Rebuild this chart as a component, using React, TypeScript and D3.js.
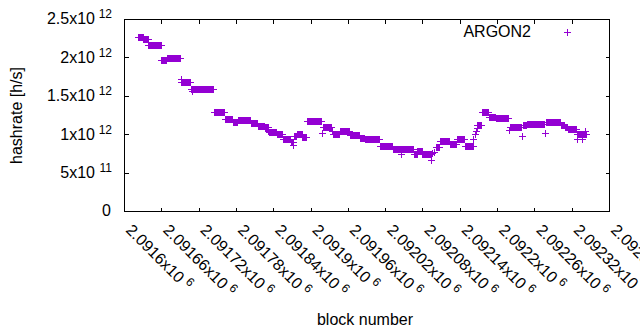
import React from 'react';
import * as d3 from 'd3';

// runs of blocks where the estimated hashrate stays the same
const runFrom = [
  2091622, 2091631, 2091639, 2091660, 2091669, 2091692, 2091707, 2091744, 2091762, 2091775,
  2091783, 2091804, 2091815, 2091826, 2091833, 2091846, 2091855, 2091868, 2091873, 2091878,
  2091887, 2091894, 2091920, 2091936, 2091947, 2091963, 2091979, 2091987, 2092011, 2092032,
  2092066, 2092072, 2092080, 2092101, 2092108, 2092124, 2092135, 2092148, 2092168, 2092175,
  2092187, 2092198, 2092220, 2092242, 2092248, 2092278, 2092302, 2092309, 2092314, 2092328,
];
const runTo = [
  2091630, 2091638, 2091659, 2091668, 2091690, 2091706, 2091743, 2091761, 2091774, 2091782,
  2091803, 2091814, 2091825, 2091832, 2091845, 2091854, 2091867, 2091872, 2091877, 2091886,
  2091893, 2091917, 2091933, 2091946, 2091962, 2091978, 2091986, 2092010, 2092031, 2092065,
  2092071, 2092079, 2092094, 2092107, 2092123, 2092134, 2092147, 2092161, 2092174, 2092186,
  2092197, 2092218, 2092239, 2092247, 2092276, 2092301, 2092308, 2092313, 2092327, 2092343,
];
const runRate = [
  2.266e12, 2.24e12, 2.158e12, 1.96e12, 1.988e12, 1.684e12, 1.585e12, 1.285e12, 1.194e12, 1.159e12,
  1.191e12, 1.152e12, 1.113e12, 1.094e12, 1.035e12, 1.003e12, 0.944e12, 0.902e12, 0.977e12, 1.009e12,
  0.97e12, 1.178e12, 1.1e12, 0.999e12, 1.042e12, 0.986e12, 0.957e12, 0.934e12, 0.84e12, 0.801e12,
  0.736e12, 0.775e12, 0.738e12, 0.829e12, 0.908e12, 0.866e12, 0.931e12, 0.846e12, 1.126e12, 1.285e12,
  1.224e12, 1.217e12, 1.09e12, 1.12e12, 1.135e12, 1.165e12, 1.126e12, 1.094e12, 1.064e12, 0.999e12,
];

// single blocks off the runs
const spikeBlock = [
  2091691, 2091709, 2091831, 2091871, 2091919, 2091934, 2092045, 2092093, 2092096, 2092098,
  2092162, 2092164, 2092166, 2092167, 2092219, 2092240, 2092277, 2092329, 2092337, 2092341,
];
const spikeRate = [
  1.719e12, 1.563e12, 1.042e12, 0.859e12, 1.012e12, 1.042e12, 0.742e12, 0.664e12, 0.76e12, 0.765e12,
  0.934e12, 1.003e12, 1.042e12, 1.08e12, 1.055e12, 0.983e12, 1.012e12, 0.934e12, 0.934e12, 1.042e12,
];

const xTicks = [
  2091600, 2091660, 2091720, 2091780, 2091840, 2091900, 2091960,
  2092020, 2092080, 2092140, 2092200, 2092260, 2092320, 2092380,
];
const xTickLabels = [
  '2.0916', '2.09166', '2.09172', '2.09178', '2.09184', '2.0919', '2.09196',
  '2.09202', '2.09208', '2.09214', '2.0922', '2.09226', '2.09232', '2.09238',
];
const yTicks = [0, 0.5e12, 1e12, 1.5e12, 2e12, 2.5e12];
const yTickMant = ['0', '5', '1', '1.5', '2', '2.5'];
const yTickExp = ['', '11', '12', '12', '12', '12'];

const color = '#9400d3';
const font = '"Liberation Sans", Arial, sans-serif';

const App = () => {
  const left = 124.5, right = 609.5, top = 19.5, bottom = 211.5;

  const x = d3.scaleLinear().domain([2091600, 2092380]).range([left, right]);
  const y = d3.scaleLinear().domain([0, 2.5e12]).range([bottom, top]);

  const points: [number, number][] = [];
  runFrom.forEach((from, i) => {
    for (let b = from; b <= runTo[i]; b++) points.push([b, runRate[i]]);
  });
  spikeBlock.forEach((b, i) => points.push([b, spikeRate[i]]));

  const plus = (cx: number, cy: number) => {
    const c = Math.floor(cx), r = Math.floor(cy);
    return `M${c - 3},${r + 0.5}H${c + 4}M${c + 0.5},${r - 3}V${r + 4}`;
  };
  const path = points.map(([b, v]) => plus(x(b), y(v))).join('');

  const tk = 4;

  return (
    <svg width={640} height={330} style={{ position: 'absolute', left: 0, top: 0, background: '#fff' }}
      fontFamily={font}>
      {/* data */}
      <path d={path} stroke={color} strokeWidth={1} fill="none" shapeRendering="crispEdges" />

      {/* frame and ticks */}
      <g stroke="#000" strokeWidth={1} shapeRendering="crispEdges">
        <rect x={left} y={top} width={right - left} height={bottom - top} fill="none" />
        {xTicks.map(t => {
          const px = Math.floor(x(t)) + 0.5;
          return (
            <g key={t}>
              <line x1={px} x2={px} y1={bottom} y2={bottom - tk} />
              <line x1={px} x2={px} y1={top} y2={top + tk} />
            </g>
          );
        })}
        {yTicks.map(t => {
          const py = Math.floor(y(t)) + 0.5;
          return (
            <g key={t}>
              <line x1={left} x2={left + tk} y1={py} y2={py} />
              <line x1={right} x2={right - tk} y1={py} y2={py} />
            </g>
          );
        })}
      </g>

      {/* y tick labels */}
      {yTicks.map((t, i) => {
        const py = y(t) + 4.8;
        if (!yTickExp[i]) {
          return <text key={t} x={111} y={py} fontSize={16} textAnchor="end">{yTickMant[i]}</text>;
        }
        return (
          <g key={t}>
            <text x={95} y={py} fontSize={16} textAnchor="end">{yTickMant[i] + 'x10'}</text>
            <text x={112} y={py - 6} fontSize={12} textAnchor="end">{yTickExp[i]}</text>
          </g>
        );
      })}

      {/* x tick labels */}
      {xTicks.map((t, i) => (
        <text key={t} transform={`translate(${x(t) + 0.5},231) rotate(45)`} fontSize={16}>
          <tspan>{xTickLabels[i] + 'x10'}</tspan>
          <tspan dx={4} dy={-6} fontSize={12}>6</tspan>
        </text>
      ))}

      {/* axis titles */}
      <text transform="translate(22,115.5) rotate(-90)" fontSize={16} textAnchor="middle">hashrate [h/s]</text>
      <text x={365} y={325} fontSize={16} textAnchor="middle">block number</text>

      {/* legend */}
      <text x={531} y={36.7} fontSize={16} textAnchor="end">ARGON2</text>
      <path d={plus(567, 32)} stroke={color} strokeWidth={1} fill="none" shapeRendering="crispEdges" />
    </svg>
  );
};

export default App;
